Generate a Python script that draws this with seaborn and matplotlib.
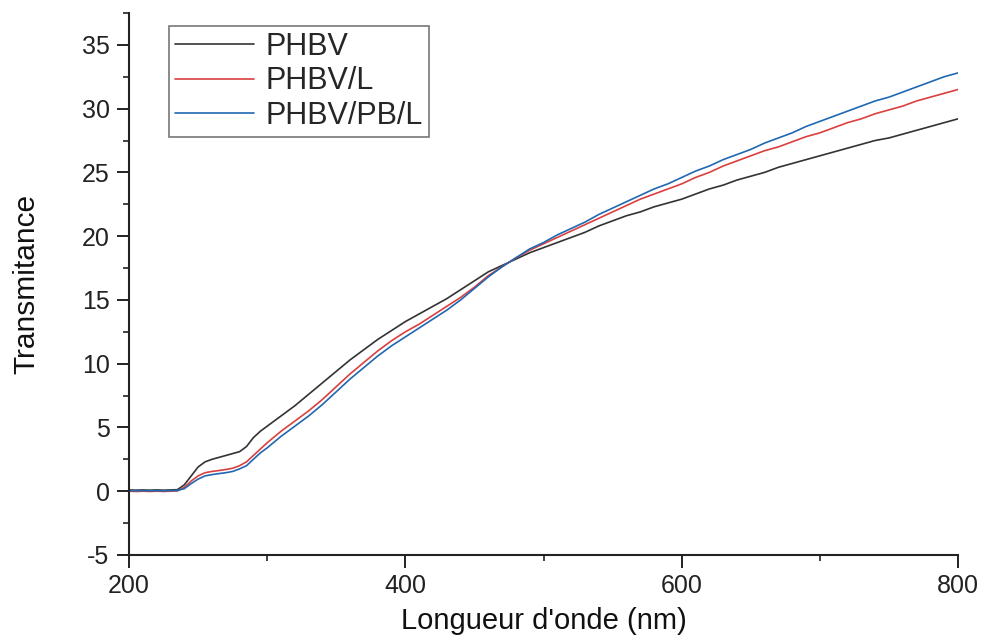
import numpy as np
import pandas as pd
import matplotlib
matplotlib.use("Agg")
import matplotlib.pyplot as plt
import seaborn as sns
from matplotlib.ticker import MultipleLocator

# Wavelength grid (nm)
wavelength = list(range(200, 301, 5)) + list(range(310, 801, 10))

phbv = [0.10, 0.08, 0.10, 0.08, 0.10, 0.08, 0.10, 0.12, 0.50, 1.20, 1.90, 2.30, 2.50,
        2.65, 2.80, 2.95, 3.10, 3.50, 4.20, 4.70, 5.10,
        5.9, 6.7, 7.6, 8.5, 9.4, 10.3, 11.1, 11.9, 12.6, 13.3, 13.9, 14.5, 15.1, 15.8,
        16.5, 17.2, 17.7, 18.2, 18.7, 19.1, 19.5, 19.9, 20.3, 20.8, 21.2, 21.6, 21.9,
        22.3, 22.6, 22.9, 23.3, 23.7, 24.0, 24.4, 24.7, 25.0, 25.4, 25.7, 26.0, 26.3,
        26.6, 26.9, 27.2, 27.5, 27.7, 28.0, 28.3, 28.6, 28.9, 29.2]

phbv_l = [0.00, -0.02, 0.00, -0.02, 0.00, -0.02, 0.00, 0.02, 0.30, 0.80, 1.20, 1.45,
          1.55, 1.62, 1.70, 1.80, 2.00, 2.30, 2.80, 3.30, 3.80,
          4.7, 5.5, 6.3, 7.2, 8.2, 9.2, 10.1, 11.0, 11.8, 12.5, 13.1, 13.8, 14.5, 15.2,
          16.0, 16.9, 17.6, 18.3, 18.9, 19.4, 19.9, 20.4, 20.9, 21.4, 21.9, 22.4, 22.9,
          23.3, 23.7, 24.1, 24.6, 25.0, 25.5, 25.9, 26.3, 26.7, 27.0, 27.4, 27.8, 28.1,
          28.5, 28.9, 29.2, 29.6, 29.9, 30.2, 30.6, 30.9, 31.2, 31.5]

phbv_pb_l = [0.05, 0.03, 0.05, 0.03, 0.05, 0.03, 0.05, 0.06, 0.20, 0.60, 0.95, 1.20,
             1.30, 1.38, 1.45, 1.55, 1.75, 2.00, 2.50, 3.00, 3.40,
             4.3, 5.1, 5.9, 6.8, 7.8, 8.8, 9.7, 10.6, 11.4, 12.1, 12.8, 13.5, 14.2, 15.0,
             15.9, 16.8, 17.6, 18.3, 19.0, 19.5, 20.1, 20.6, 21.1, 21.7, 22.2, 22.7, 23.2,
             23.7, 24.1, 24.6, 25.1, 25.5, 26.0, 26.4, 26.8, 27.3, 27.7, 28.1, 28.6, 29.0,
             29.4, 29.8, 30.2, 30.6, 30.9, 31.3, 31.7, 32.1, 32.5, 32.8]

series_names = ["PHBV", "PHBV/L", "PHBV/PB/L"]
series_colors = ["#333333", "#d9403f", "#1f68b3"]

df = pd.concat([
    pd.DataFrame({"wl": wavelength, "T": vals, "sample": name})
    for name, vals in zip(series_names, [phbv, phbv_l, phbv_pb_l])
], ignore_index=True)

sns.set_style("ticks")
plt.rcParams["font.family"] = ["Liberation Sans", "DejaVu Sans"]
plt.rcParams["axes.unicode_minus"] = False

fig = plt.figure(figsize=(9.82, 6.36), dpi=100)
ax = fig.add_axes([0.1314, 0.1274, 0.8442, 0.8522])

sns.lineplot(data=df, x="wl", y="T", hue="sample", hue_order=series_names,
             palette=series_colors, linewidth=1.2, ax=ax, sort=False)

ax.set_xlim(200, 800)
ax.set_ylim(-5, 37.5)
ax.xaxis.set_major_locator(MultipleLocator(200))
ax.xaxis.set_minor_locator(MultipleLocator(100))
ax.yaxis.set_major_locator(MultipleLocator(5))
ax.yaxis.set_minor_locator(MultipleLocator(2.5))

for side in ("top", "right"):
    ax.spines[side].set_visible(False)
for side in ("left", "bottom"):
    ax.spines[side].set_linewidth(1.5)
    ax.spines[side].set_color("#222222")

ax.tick_params(which="major", direction="out", length=9, width=1.4,
               labelsize=18, colors="#222222", pad=5)
ax.tick_params(which="minor", direction="out", length=4.5, width=1.2,
               colors="#222222")

ax.set_xlabel("Longueur d'onde (nm)", fontsize=21, labelpad=6, color="#111111")
ax.set_ylabel("Transmitance", fontsize=21.5, labelpad=30, color="#111111")

leg = ax.legend(loc="upper left", bbox_to_anchor=(0.048, 0.976), borderaxespad=0,
                fontsize=22, frameon=True, fancybox=False, framealpha=1,
                edgecolor="#777777", handlelength=2.6, handletextpad=0.35,
                labelspacing=0.14, borderpad=0.2, title=None)
leg.get_frame().set_linewidth(1.2)
for line in leg.get_lines():
    line.set_linewidth(1.2)

fig.savefig("out.png", dpi=100)
